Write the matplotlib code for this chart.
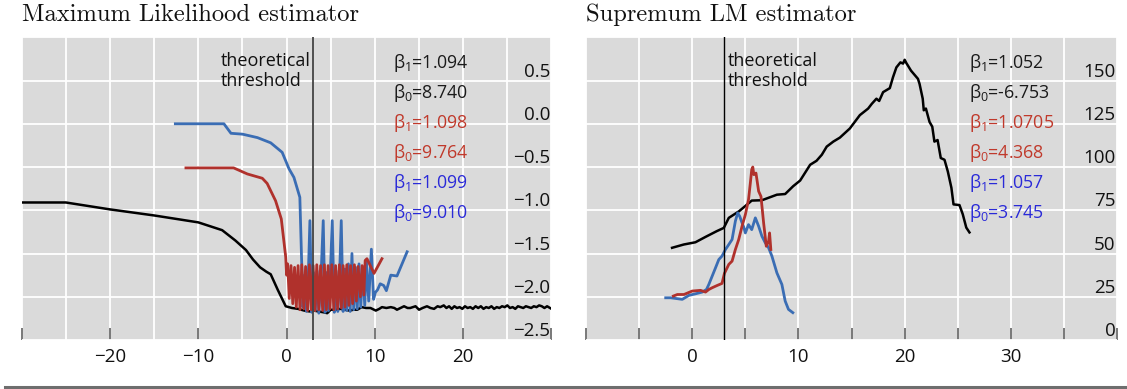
import numpy as np
import matplotlib.pyplot as plt
from matplotlib.lines import Line2D

plt.rcParams['font.family'] = ['Open Sans', 'DejaVu Sans']
plt.rcParams['mathtext.fontset'] = 'custom'
plt.rcParams['mathtext.rm'] = 'Open Sans'
plt.rcParams['mathtext.it'] = 'Open Sans'
plt.rcParams['mathtext.bf'] = 'Open Sans:bold'

# --- Maximum Likelihood panel ---
ml_black_x = [-30, -25, -20, -15, -10, -7.3, -5.8, -4.6, -3.8, -3.0,
              -2.3, -1.8, -1.0, -0.1, 0.6, 1.3, 2.0, 2.6, 3.1, 3.6,
              4.2, 4.6, 5.0, 5.5, 6.1, 6.6, 7.1, 7.6, 8.0, 8.5,
              9.0, 9.5, 10.1, 10.5, 10.8, 11.3, 11.8, 12.2, 12.5, 12.9,
              13.3, 13.7, 14.0, 14.6, 15.0, 15.4, 15.9, 16.3, 16.7, 17.1,
              17.4, 17.8, 18.1, 18.4, 18.7, 19.0, 19.3, 19.6, 19.9, 20.2,
              20.5, 20.8, 21.1, 21.4, 21.7, 22.0, 22.3, 22.6, 22.9, 23.2,
              23.5, 23.8, 24.1, 24.4, 24.7, 25.0, 25.3, 25.6, 25.9, 26.2,
              26.5, 26.8, 27.1, 27.4, 27.7, 28.0, 28.3, 28.6, 28.9, 29.2,
              29.5, 30.0]
ml_black_y = [-0.91, -0.91, -0.99, -1.06, -1.14, -1.23, -1.35, -1.46, -1.57, -1.66,
              -1.71, -1.74, -1.92, -2.11, -2.13, -2.14, -2.16, -2.17, -2.16, -2.17,
              -2.18, -2.19, -2.15, -2.15, -2.14, -2.15, -2.16, -2.15, -2.15, -2.12,
              -2.13, -2.13, -2.16, -2.14, -2.12, -2.13, -2.12, -2.13, -2.15, -2.13,
              -2.11, -2.13, -2.13, -2.11, -2.15, -2.13, -2.11, -2.13, -2.14, -2.11,
              -2.12, -2.10, -2.13, -2.11, -2.14, -2.11, -2.13, -2.12, -2.14, -2.11,
              -2.13, -2.12, -2.14, -2.11, -2.13, -2.11, -2.14, -2.12, -2.13, -2.11,
              -2.14, -2.12, -2.13, -2.11, -2.12, -2.10, -2.13, -2.12, -2.14, -2.11,
              -2.12, -2.13, -2.11, -2.12, -2.13, -2.11, -2.12, -2.10, -2.11, -2.13,
              -2.11, -2.14]

ml_blue_x = [-12.6, -7.1, -6.3, -5.0, -3.3, -1.8, -0.5, 0.27, 0.83, 1.5,
             1.85, 2.05, 2.25, 2.45, 2.64, 2.85, 3.05, 3.25, 3.45, 3.65,
             3.90, 4.15, 4.35, 4.55, 4.75, 4.95, 5.17, 5.40, 5.60, 5.80,
             6.00, 6.19, 6.40, 6.60, 6.80, 7.00, 7.20, 7.40, 7.60, 7.80,
             8.00, 8.20, 8.40, 8.60, 8.85, 9.05, 9.30, 9.60, 9.85, 10.05,
             10.3, 10.6, 11.0, 11.3, 11.8, 12.5, 13.65]
ml_blue_y = [0.0, 0.0, -0.11, -0.12, -0.16, -0.22, -0.33, -0.52, -0.62, -0.85,
             -2.12, -1.75, -2.17, -1.78, -1.12, -2.18, -1.72, -2.16, -1.70, -2.19,
             -1.76, -1.12, -2.18, -1.72, -2.16, -1.74, -1.12, -2.18, -1.70, -2.17,
             -1.75, -1.12, -2.17, -1.68, -2.16, -1.62, -2.17, -1.50, -2.15, -1.66,
             -2.14, -1.62, -2.12, -1.68, -2.10, -1.60, -2.05, -1.45, -2.03, -1.95,
             -1.92, -1.85, -1.87, -1.93, -1.75, -1.76, -1.48]

ml_red_x = [-11.4, -6.0, -4.45, -2.75, -2.2, -1.25, -0.6, -0.1, 0.0, 0.12,
            0.30, 0.50, 0.70, 0.90, 1.10, 1.30, 1.52, 1.72, 1.95, 2.15,
            2.38, 2.58, 2.80, 3.00, 3.22, 3.42, 3.65, 3.85, 4.08, 4.28,
            4.50, 4.70, 4.92, 5.12, 5.35, 5.55, 5.78, 5.98, 6.20, 6.40,
            6.62, 6.82, 7.05, 7.25, 7.48, 7.68, 7.90, 8.10, 8.35, 8.55,
            8.75, 8.90, 9.10, 9.90, 10.8]
ml_red_y = [-0.51, -0.51, -0.58, -0.63, -0.69, -0.89, -1.10, -1.54, -1.75, -1.62,
            -2.02, -1.64, -2.08, -1.66, -2.12, -1.64, -2.15, -1.63, -2.14, -1.65,
            -2.16, -1.63, -2.15, -1.64, -2.16, -1.63, -2.15, -1.64, -2.16, -1.63,
            -2.15, -1.64, -2.14, -1.63, -2.15, -1.64, -2.14, -1.63, -2.13, -1.64,
            -2.12, -1.63, -2.10, -1.64, -2.08, -1.63, -2.05, -1.65, -2.00, -1.64,
            -1.98, -1.58, -1.56, -1.73, -1.56]

# --- Supremum LM panel ---
lm_black_x = [-1.9, -0.8, 0.3, 1.25, 2.3, 2.97, 3.44, 4.4, 5.16, 5.6,
              6.56, 7.97, 8.75, 9.5, 10.16, 11.1, 11.7, 12.2, 12.66, 13.28,
              13.9, 14.84, 15.78, 16.56, 16.9, 17.34, 17.6, 17.97, 18.6, 18.9,
              19.22, 19.6, 19.85, 20.0, 20.16, 20.6, 21.25, 21.4, 21.7, 21.8,
              22.0, 22.34, 22.6, 22.8, 23.1, 23.4, 23.75, 24.06, 24.4, 24.6,
              25.16, 25.47, 25.8, 26.1]
lm_black_y = [53.3, 55.2, 56.5, 59.6, 62.9, 64.8, 70.6, 74.4, 78.3, 80.6,
              80.8, 84.0, 84.4, 88.9, 92.2, 101.3, 103.6, 107.1, 111.8, 114.7,
              117.0, 122.3, 130.0, 133.8, 136.5, 139.5, 138.2, 143.3, 145.6, 151.9,
              157.6, 160.5, 159.8, 162.0, 160.1, 155.7, 151.0, 148.1, 139.5, 132.8,
              133.8, 126.1, 123.3, 114.7, 115.6, 105.2, 104.2, 97.5, 88.0, 78.4,
              78.0, 72.7, 65.0, 62.2]

lm_red_x = [-1.78, -1.4, -0.78, 0.0, 0.78, 1.25, 1.56, 1.875, 2.34, 2.8,
            3.03, 3.44, 3.75, 4.06, 4.375, 4.69, 5.0, 5.3, 5.47, 5.6,
            5.7, 5.8, 6.0, 6.25, 6.47, 6.72, 6.97, 7.19, 7.28, 7.4]
lm_red_y = [25.4, 26.3, 26.3, 28.3, 28.7, 27.7, 29.2, 30.2, 31.5, 32.7,
            38.5, 43.7, 45.6, 52.3, 58.1, 65.8, 72.5, 81.2, 90.8, 98.5,
            100.0, 95.6, 96.5, 86.0, 83.0, 67.7, 54.2, 57.1, 61.9, 52.3]

lm_blue_x = [-2.5, -2.03, -0.94, -0.31, 0.31, 0.94, 1.34, 1.56, 1.875, 2.19,
             2.5, 2.8, 3.125, 3.44, 3.75, 4.06, 4.28, 4.47, 4.69, 4.84,
             5.0, 5.3, 5.6, 5.94, 6.25, 6.56, 6.875, 7.19, 7.5, 7.97,
             8.44, 8.75, 9.06, 9.47]
lm_blue_y = [24.4, 24.4, 23.5, 25.8, 26.7, 27.7, 29.2, 32.1, 36.9, 41.7,
             46.5, 48.5, 52.3, 55.2, 58.1, 68.7, 73.5, 71.5, 67.7, 65.4,
             61.9, 66.7, 63.8, 70.6, 65.8, 60.0, 56.2, 53.3, 48.5, 38.8,
             32.1, 22.5, 17.7, 15.8]

threshold = 3

ml_labels = [r'$\beta_1$=1.094', r'$\beta_0$=8.740', r'$\beta_1$=1.098',
             r'$\beta_0$=9.764', r'$\beta_1$=1.099', r'$\beta_0$=9.010']
lm_labels = [r'$\beta_1$=1.052', r'$\beta_0$=-6.753', r'$\beta_1$=1.0705',
             r'$\beta_0$=4.368', r'$\beta_1$=1.057', r'$\beta_0$=3.745']
label_colors = ['#1a1a1a', '#1a1a1a', '#c0392b', '#c0392b', '#2a2ad8', '#2a2ad8']

ml_xticks = [-30, -20, -10, 0, 10, 20, 30]
ml_xticklabels = ['', '−20', '−10', '0', '10', '20', '']
ml_yticks = [-2.5, -2.0, -1.5, -1.0, -0.5, 0.0, 0.5, 1.0]
ml_yticklabels = ['−2.5', '−2.0', '−1.5', '−1.0', '−0.5', '0.0', '0.5', '']

lm_xticks = [-10, -5, 0, 5, 10, 15, 20, 25, 30, 35, 40]
lm_xticklabels = ['', '', '0', '', '10', '', '20', '', '30', '', '']
lm_yticks = [0, 25, 50, 75, 100, 125, 150, 175]
lm_yticklabels = ['0', '25', '50', '75', '100', '125', '150', '']

BLACK = '#000000'
RED = '#b0312c'
BLUE = '#3a6db4'


def style_axes(ax, xlim, ylim, xticks, xlabels, yticks, ylabels, minor_x=None):
    ax.set_facecolor('#dadada')
    for s in ax.spines.values():
        s.set_visible(False)
    ax.set_xlim(xlim)
    ax.set_ylim(ylim)
    ax.set_xticks(xticks, xlabels)
    if minor_x is not None:
        ax.set_xticks(minor_x, minor=True)
    ax.set_yticks(yticks, ylabels)
    ax.grid(True, which='both', color='white', lw=1.3)
    ax.set_axisbelow(True)
    ax.tick_params(axis='x', which='major', direction='in', length=8.5, width=1.1,
                   color='#555555', pad=6, labelsize=13.5, labelcolor='#111111')
    ax.tick_params(axis='x', which='minor', length=0)
    ax.tick_params(axis='y', left=False, right=False, labelleft=False, labelright=True,
                   pad=-4.5, labelsize=13.5, labelcolor='#111111')
    for t in ax.yaxis.get_major_ticks():
        t.label2.set_horizontalalignment('right')
        t.label2.set_verticalalignment('bottom')


fig = plt.figure(figsize=(11.27, 3.89), dpi=100)
ax1 = fig.add_axes([0.01925, 0.126, 0.4701, 0.7781])
ax2 = fig.add_axes([0.5200, 0.126, 0.4712, 0.7781])

# left panel
style_axes(ax1, (-30, 30), (-2.5, 1.0), ml_xticks, ml_xticklabels, ml_yticks, ml_yticklabels,
           minor_x=[-25, -15, -5, 5, 15, 25])
ax1.plot(ml_black_x, ml_black_y, color=BLACK, lw=1.8)
ax1.plot(ml_blue_x, ml_blue_y, color=BLUE, lw=2.0)
ax1.plot(ml_red_x, ml_red_y, color=RED, lw=2.0)
ax1.axvline(threshold, color='#444444', lw=1.3)
tr1 = ax1.get_xaxis_transform()
ax1.annotate('theoretical\nthreshold', xy=(threshold, 0.952), xycoords=tr1,
             xytext=(-2, 0), textcoords='offset points', ha='right', va='top',
             multialignment='left', fontsize=13, color='#111111', linespacing=1.12)
for i, (txt, col) in enumerate(zip(ml_labels, label_colors)):
    ax1.text(12.06, 0.900 - i * 0.0991, txt, color=col, fontsize=12.8,
             ha='left', va='baseline', transform=tr1)
ax1.set_title('Maximum Likelihood estimator', loc='left', fontfamily='cmr10',
              fontsize=17.7, pad=12, color='#111111')

# right panel
style_axes(ax2, (-10, 40), (0, 175), lm_xticks, lm_xticklabels, lm_yticks, lm_yticklabels)
ax2.plot(lm_black_x, lm_black_y, color=BLACK, lw=1.8)
ax2.plot(lm_blue_x, lm_blue_y, color=BLUE, lw=2.0)
ax2.plot(lm_red_x, lm_red_y, color=RED, lw=2.0)
ax2.axvline(threshold, color='#000000', lw=1.0)
tr2 = ax2.get_xaxis_transform()
ax2.annotate('theoretical\nthreshold', xy=(threshold, 0.952), xycoords=tr2,
             xytext=(2.5, 0), textcoords='offset points', ha='left', va='top',
             multialignment='left', fontsize=13, color='#111111', linespacing=1.12)
for i, (txt, col) in enumerate(zip(lm_labels, label_colors)):
    ax2.text(26.04, 0.900 - i * 0.0991, txt, color=col, fontsize=12.8,
             ha='left', va='baseline', transform=tr2)
ax2.set_title('Supremum LM estimator', loc='left', fontfamily='cmr10',
              fontsize=17.7, pad=12, color='#111111')

# bottom rule
fig.add_artist(Line2D([0.004, 1.0], [0.0055, 0.0055], transform=fig.transFigure,
                      color='#6e6e6e', lw=2.2))

fig.savefig('out.png', dpi=100)
